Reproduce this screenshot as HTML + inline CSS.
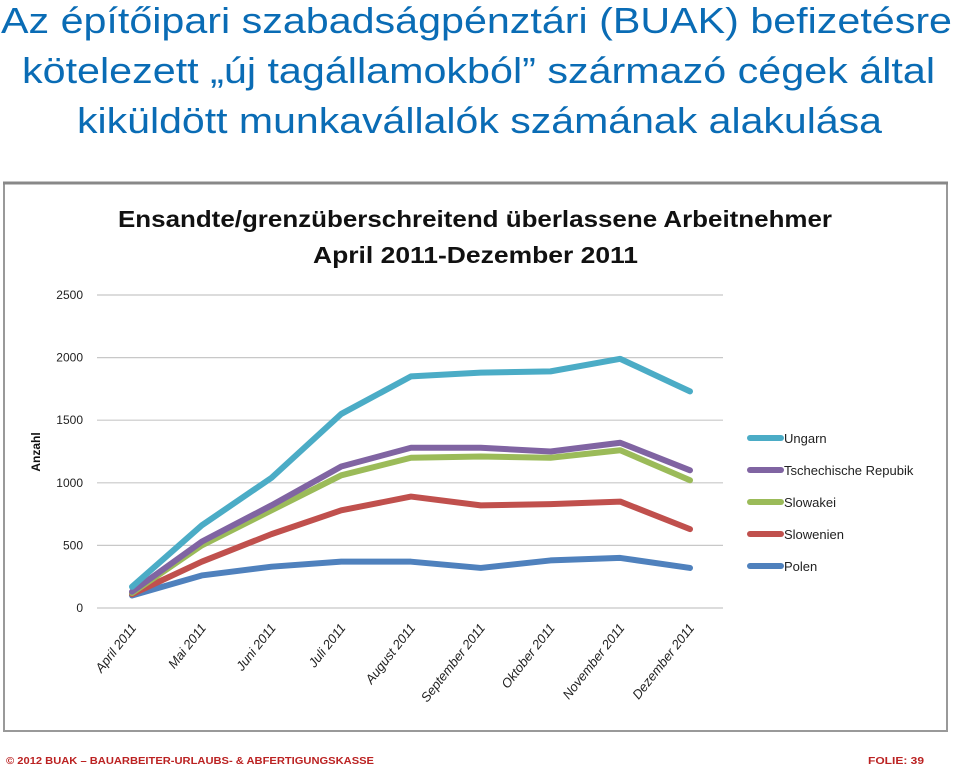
<!DOCTYPE html>
<html><head><meta charset="utf-8"><style>
html,body{margin:0;padding:0;background:#fff;width:959px;height:772px;overflow:hidden}
svg{display:block}
</style></head><body>
<svg id="s" width="959" height="772" xmlns="http://www.w3.org/2000/svg" font-family="Liberation Sans, sans-serif">
<g fill="#0a6cb5" font-size="36">
<text x="1" y="33" textLength="951" lengthAdjust="spacingAndGlyphs">Az építőipari szabadságpénztári (BUAK) befizetésre</text>
<text x="22" y="83" textLength="913" lengthAdjust="spacingAndGlyphs">kötelezett „új tagállamokból” származó cégek által</text>
<text x="77" y="133" textLength="805" lengthAdjust="spacingAndGlyphs">kiküldött munkavállalók számának alakulása</text>
</g>
<rect x="4" y="183" width="943" height="548" fill="#fff" stroke="#999" stroke-width="2"/>
<line x1="3" y1="183" x2="948" y2="183" stroke="#888" stroke-width="3"/>
<g font-weight="bold" font-size="23" fill="#111">
<text x="118" y="227" textLength="714" lengthAdjust="spacingAndGlyphs">Ensandte/grenzüberschreitend überlassene Arbeitnehmer</text>
<text x="313" y="263" textLength="325" lengthAdjust="spacingAndGlyphs">April 2011-Dezember 2011</text>
</g>
<text transform="translate(40,452) rotate(-90)" text-anchor="middle" font-size="12" font-weight="bold" fill="#111">Anzahl</text>
<g id="grid"></g><g id="lines"></g><g id="legend"></g>
<g font-size="10" font-weight="bold" fill="#b22">
<text x="6" y="764" textLength="368" lengthAdjust="spacingAndGlyphs">© 2012 BUAK – BAUARBEITER-URLAUBS- &amp; ABFERTIGUNGSKASSE</text>
<text x="868" y="764" textLength="56" lengthAdjust="spacingAndGlyphs">FOLIE:  39</text>
</g>
</svg>
<script>
const categories=["April 2011","Mai 2011","Juni 2011","Juli 2011","August 2011","September 2011","Oktober 2011","November 2011","Dezember 2011"];
const yTicks=[0,500,1000,1500,2000,2500];
const seriesNames=["Ungarn","Tschechische Repubik","Slowakei","Slowenien","Polen"];
const seriesColors=["#4bacc6","#8064a2","#9bbb59","#c0504d","#4f81bd"];
const ungarn=[170,660,1040,1550,1850,1880,1890,1990,1730];
const tschechien=[130,530,820,1130,1280,1280,1250,1320,1100];
const slowakei=[120,500,780,1060,1200,1210,1200,1260,1020];
const slowenien=[110,370,590,780,890,820,830,850,630];
const polen=[100,260,330,370,370,320,380,400,320];
const series=[ungarn,tschechien,slowakei,slowenien,polen];
const NS="http://www.w3.org/2000/svg";
const y=v=>608-v*(313/2500);
const x=i=>132+i*69.75;
const grid=document.getElementById('grid');
function mk(t,a,p){const e=document.createElementNS(NS,t);for(const k in a)e.setAttribute(k,a[k]);p.appendChild(e);return e;}
yTicks.forEach(v=>{
 const l=mk('line',{x1:97,x2:723,y1:y(v),y2:y(v),stroke:'#c8c8c8','stroke-width':1.2},grid);
 
 
 const t=mk('text',{x:83,y:y(v)+4,'text-anchor':'end','font-size':12,fill:'#222'},grid);
 t.textContent=v;
 
 
});
categories.forEach((c,i)=>{
 const t=mk('text',{transform:`translate(${x(i)+5},628) rotate(-52)`,'text-anchor':'end','font-size':13,'font-style':'italic',fill:'#222'},grid);
 t.textContent=c;
 
 
});
const lines=document.getElementById('lines');
for(let s=series.length-1;s>=0;s--){
 const p=mk('polyline',{points:series[s].map((v,i)=>x(i)+','+y(v)).join(' '),fill:'none',stroke:seriesColors[s],'stroke-width':6,'stroke-linejoin':'round','stroke-linecap':'round'},lines);
 
 
}
const lg=document.getElementById('legend');
seriesNames.forEach((n,i)=>{
 const yy=438+i*32;
 const g=mk('g',{},lg);
 
 
 mk('line',{x1:750,x2:781,y1:yy,y2:yy,stroke:seriesColors[i],'stroke-width':6,'stroke-linecap':'round'},g);
 const t=mk('text',{x:784,y:yy+5,'font-size':13,fill:'#222'},g);
 t.textContent=n;
});
</script>
</body></html>
